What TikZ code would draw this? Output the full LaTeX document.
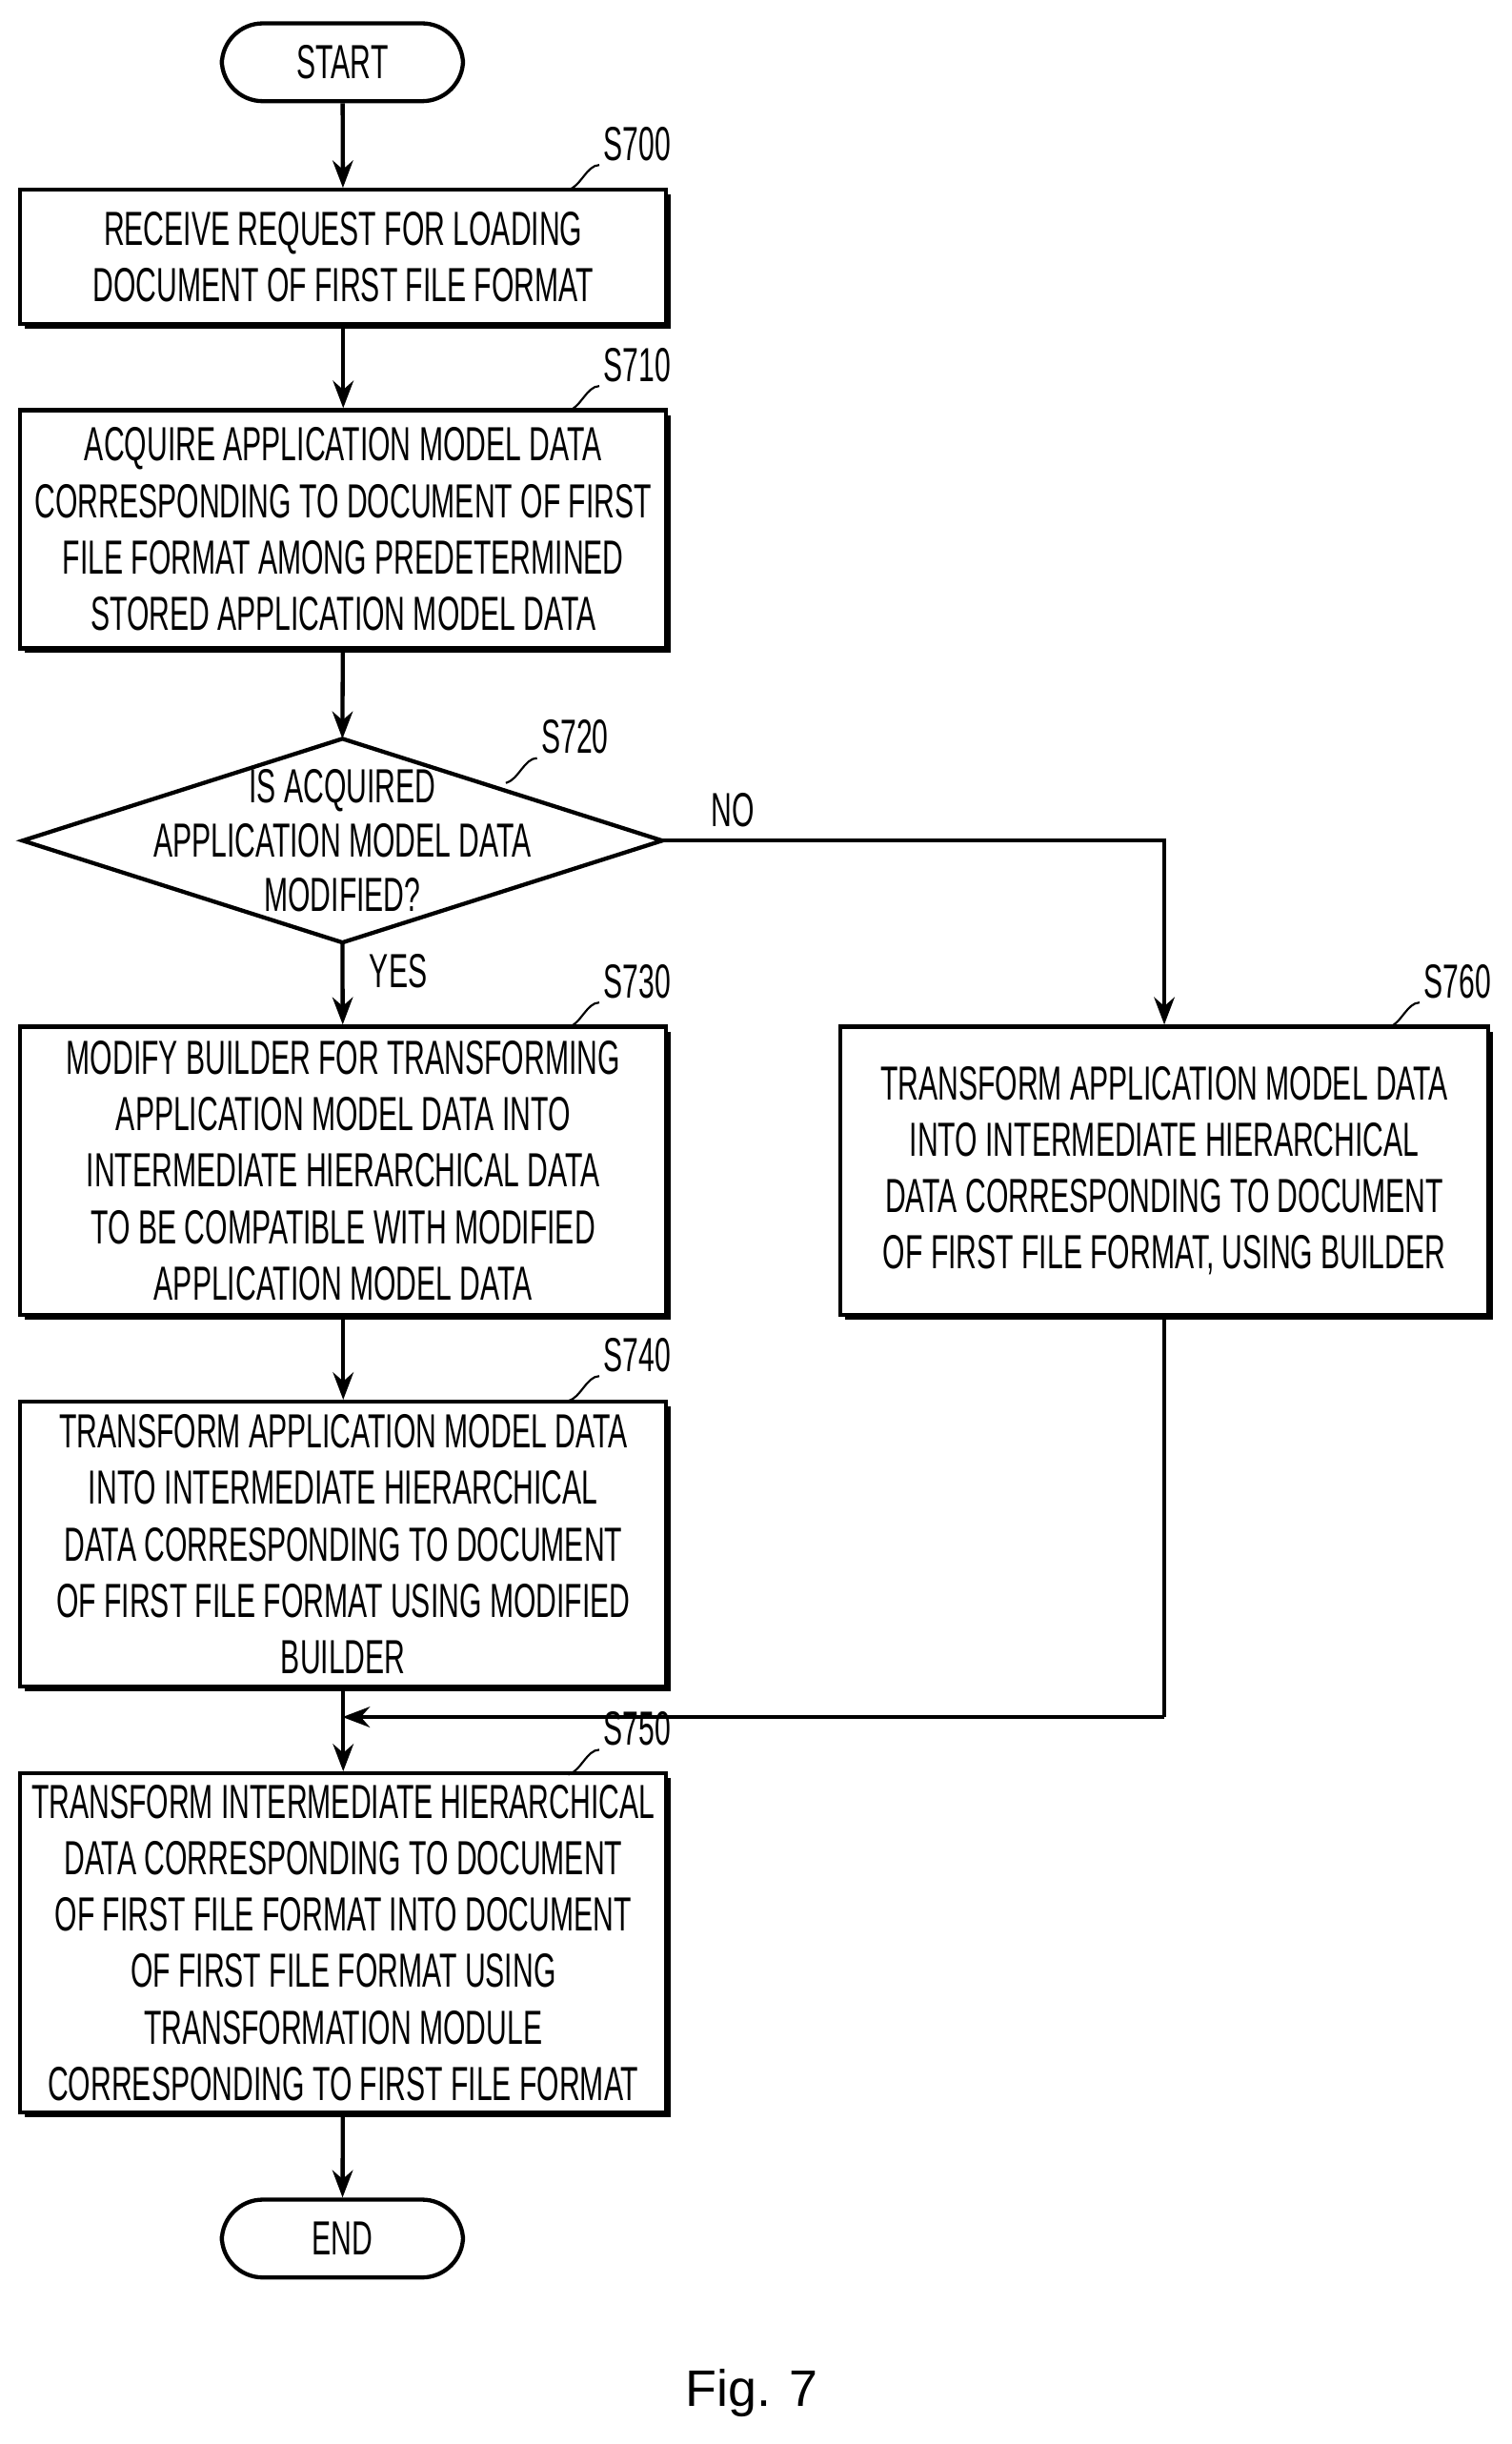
\documentclass[tikz,border=0pt]{standalone}
\usepackage{fontspec}
\setmainfont{Liberation Sans}[FakeStretch=0.6]
\newfontfamily\capfont{Liberation Sans}
\usetikzlibrary{shapes.geometric, shadows, arrows.meta, positioning}
\tikzset{
  box/.style = {rectangle, draw=black, line width=1.2pt, fill=white, minimum width=415*0.016cm, align=center, font=\fontsize{14}{16.5}\selectfont, drop shadow={shadow xshift=1.4pt, shadow yshift=-1.4pt, opacity=1, fill=black}},
  term/.style = {rectangle, rounded corners=12pt, draw=black, line width=1.2pt, fill=white, minimum width=155*0.016cm, minimum height=50*0.016cm, font=\fontsize{14}{16}\selectfont},
  dec/.style  = {rectangle, inner sep=0pt, minimum width=410*0.016cm, minimum height=130*0.016cm, align=center, font=\fontsize{14}{16}\selectfont},
  arrow/.style = {line width=1.2pt, -{Stealth[length=8pt, width=6pt]}},
  line/.style = {line width=1.2pt},
  tag/.style = {font=\fontsize{14}{16}\selectfont, anchor=south west, inner sep=1pt},
  lead/.style = {line width=0.6pt}
}
\begin{document}
\begin{tikzpicture}[x=0.016cm, y=-0.016cm]
  \useasboundingbox (0,0) rectangle (971,1570);
  \node(start)[term] at (220,40) {START};
  \node(s700)[box, minimum height=86*0.016cm] at (220.5,165) {RECEIVE REQUEST FOR LOADING\\DOCUMENT OF FIRST FILE FORMAT};
  \node(s710)[box, minimum height=153*0.016cm] at (220.5,340) {ACQUIRE APPLICATION MODEL DATA\\CORRESPONDING TO DOCUMENT OF FIRST\\FILE FORMAT AMONG PREDETERMINED\\STORED APPLICATION MODEL DATA};
  \node(s720)[dec] at (220,540) {IS ACQUIRED\\APPLICATION MODEL DATA\\MODIFIED?};
  \draw [line] (s720.west)--(s720.north)--(s720.east)--(s720.south)--cycle;
  \node(s730)[box, minimum height=185*0.016cm] at (220.5,752) {MODIFY BUILDER FOR TRANSFORMING\\APPLICATION MODEL DATA INTO\\INTERMEDIATE HIERARCHICAL DATA\\TO BE COMPATIBLE WITH MODIFIED\\APPLICATION MODEL DATA};
  \node(s760)[box, minimum height=185*0.016cm, minimum width=416*0.016cm] at (748,752) {TRANSFORM APPLICATION MODEL DATA\\INTO INTERMEDIATE HIERARCHICAL\\DATA CORRESPONDING TO DOCUMENT\\OF FIRST FILE FORMAT, USING BUILDER};
  \node(s740)[box, minimum height=183*0.016cm] at (220.5,992) {TRANSFORM APPLICATION MODEL DATA\\INTO INTERMEDIATE HIERARCHICAL\\DATA CORRESPONDING TO DOCUMENT\\OF FIRST FILE FORMAT USING MODIFIED\\BUILDER};
  \node(s750)[box, minimum height=217*0.016cm] at (220.5,1248) {TRANSFORM INTERMEDIATE HIERARCHICAL\\DATA CORRESPONDING TO DOCUMENT\\OF FIRST FILE FORMAT INTO DOCUMENT\\OF FIRST FILE FORMAT USING\\TRANSFORMATION MODULE\\CORRESPONDING TO FIRST FILE FORMAT};
  \node(end)[term] at (220,1438) {END};
  %
  \coordinate(join) at (748,1103);
  \coordinate(merge) at (220,1103);
  \draw [arrow] (start)--(s700);
  \draw [arrow] (s700)--(s710);
  \draw [arrow] (s710)--(s720.north);
  \draw [arrow] (s720.south)--node[right, font=\fontsize{14}{16}\selectfont, xshift=4pt, pos=0.35]{YES}(s730);
  \draw [arrow] (s720.east)-|node[pos=0.07, above, font=\fontsize{14}{16}\selectfont]{NO}(s760);
  \draw [arrow] (s730)--(s740);
  \draw [arrow] (s740)--(s750);
  \draw [line] (s760)--(join);
  \draw [arrow] (join)--(merge);
  \draw [arrow] (s750)--(end);
  %
  \foreach \t/\x/\y in {S700/365/122, S710/365/264, S730/365/660, S740/365/900, S750/365/1140, S760/892/660}
    \draw [lead] (\x,\y) .. controls (\x+8,\y-2) and (\x+12,\y-16) .. (\x+20,\y-16) node[tag]{\t};
  \draw [lead] (325,503) .. controls (333,501) and (337,487) .. (345,487) node[tag]{S720};
  \node(fig) at (483,1537) {\capfont\fontsize{15}{18}\selectfont Fig. 7};
\end{tikzpicture}
\end{document}
